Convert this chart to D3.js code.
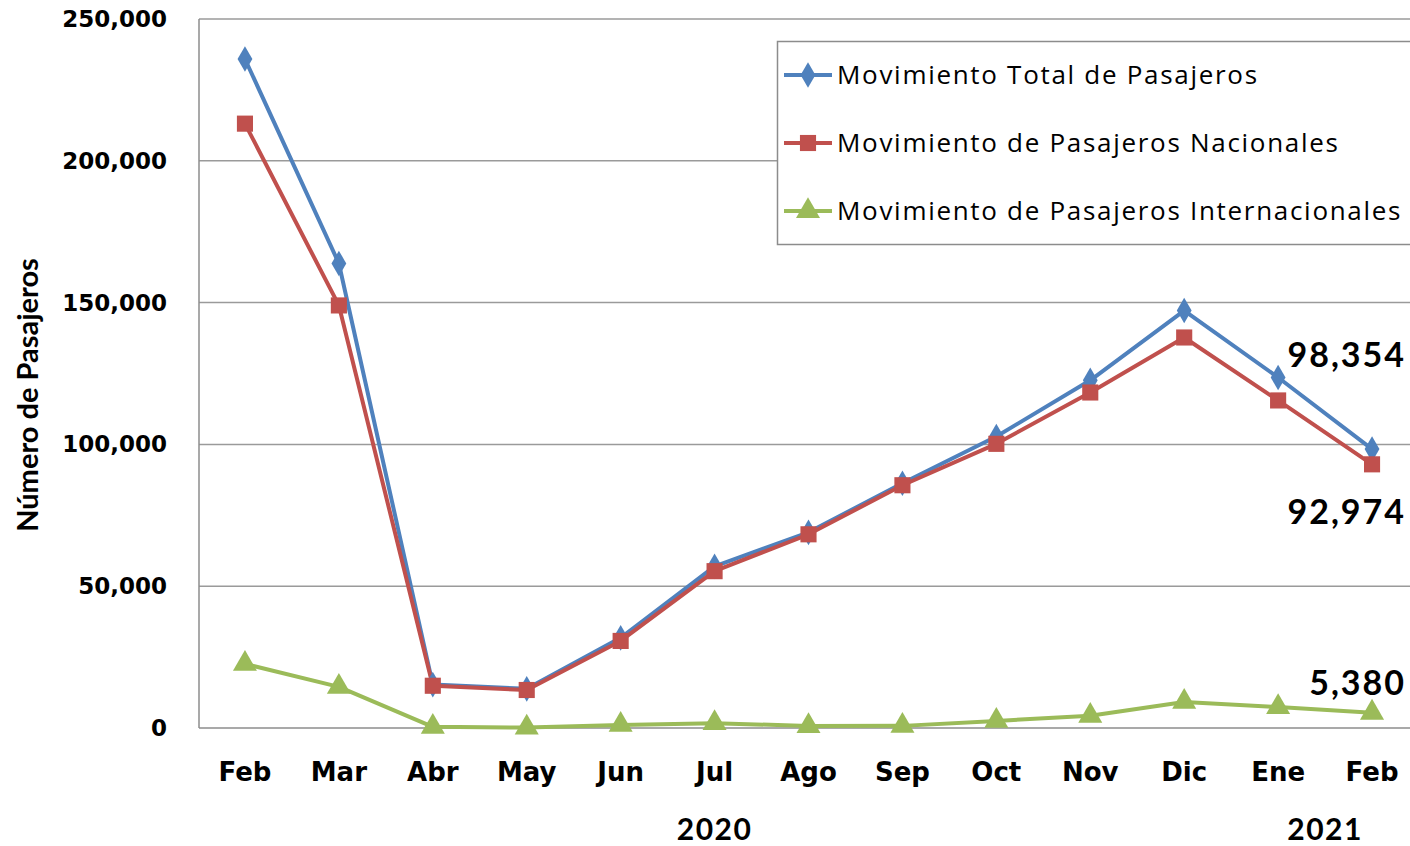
<!DOCTYPE html>
<html>
<head>
<meta charset="utf-8">
<script src="https://cdn.jsdelivr.net/npm/d3@7"></script>
<style>
  body { margin: 0; background: #fff; }
  svg { display: block; }
</style>
</head>
<body>
<svg id="chart"></svg>
<script>
// months (two "Feb" entries, so marks are keyed by index)
const months = ['Feb','Mar','Abr','May','Jun','Jul','Ago','Sep','Oct','Nov','Dic','Ene','Feb'];
const years = [{label: '2020', at: 5}, {label: '2021', at: 11.5}];

const total = [235900, 163800, 15300, 13800, 31800, 57000, 69000, 86300, 102800, 122600, 147200, 123600, 98354];
const nacional = [213100, 149000, 14900, 13400, 30700, 55300, 68300, 85600, 100200, 118300, 137700, 115500, 92974];
const internacional = [22600, 14500, 400, 150, 1100, 1700, 700, 750, 2500, 4300, 9200, 7400, 5380];

const yTicks = [0, 50000, 100000, 150000, 200000, 250000];

const seriesNames = ['Movimiento Total de Pasajeros', 'Movimiento de Pasajeros Nacionales', 'Movimiento de Pasajeros Internacionales'];
const seriesColors = ['#4F81BD', '#C0504D', '#9BBB59'];
const seriesSymbols = [d3.symbolDiamond, d3.symbolSquare, d3.symbolTriangle];

let vWidth = 1410, vHeight = 846;
let plotLeft = 199, plotTop = 19, plotBottom = 728;

var svg = d3.select('#chart')
  .attr('width', vWidth)
  .attr('height', vHeight);

// month index -> centre of its slot
var x = d3.scaleLinear()
  .domain([-0.5, months.length - 0.5])
  .range([198, 1419]);

var y = d3.scaleLinear()
  .domain([0, 250000])
  .range([plotBottom, plotTop]);

//gridlines
svg.append('g')
  .selectAll('line')
  .data(yTicks.filter(d => d > 0))
  .enter().append('line')
  .attr('x1', plotLeft).attr('x2', vWidth)
  .attr('y1', d => y(d)).attr('y2', d => y(d))
  .attr('stroke', '#9a9a9a').attr('stroke-width', 1.5);

//axes lines
svg.append('line')
  .attr('x1', plotLeft).attr('x2', plotLeft)
  .attr('y1', y(250000)).attr('y2', y(0))
  .attr('stroke', '#8c8c8c').attr('stroke-width', 1.5);
svg.append('line')
  .attr('x1', plotLeft).attr('x2', vWidth)
  .attr('y1', y(0)).attr('y2', y(0))
  .attr('stroke', '#8c8c8c').attr('stroke-width', 1.5);

//y tick labels
svg.append('g')
  .selectAll('text')
  .data(yTicks)
  .enter().append('text')
  .attr('x', 167)
  .attr('y', d => y(d))
  .attr('dy', '0.35em')
  .attr('text-anchor', 'end')
  .style('font', 'bold 23px "DejaVu Sans", Verdana, sans-serif')
  .text(d => d3.format(',')(d));

//x tick labels
svg.append('g')
  .selectAll('text')
  .data(months)
  .enter().append('text')
  .attr('x', (d, i) => x(i))
  .attr('y', 781)
  .attr('text-anchor', 'middle')
  .style('font', 'bold 26px "DejaVu Sans", Verdana, sans-serif')
  .text(d => d);

//year labels
svg.append('g')
  .selectAll('text')
  .data(years)
  .enter().append('text')
  .attr('x', d => x(d.at))
  .attr('y', 840)
  .attr('text-anchor', 'middle')
  .style('font', 'bold 30px Lato, "Open Sans", sans-serif')
  .style('letter-spacing', '1.5px')
  .text(d => d.label);

//y axis title
svg.append('text')
  .attr('transform', 'translate(38,395)rotate(-90)')
  .attr('text-anchor', 'middle')
  .style('font', 'bold 29px Lato, "Open Sans", sans-serif')
  .text('Número de Pasajeros');

//series
const allSeries = [total, nacional, internacional];
var line = d3.line().x((d, i) => x(i)).y(d => y(d));

allSeries.forEach(function(vals, s) {
  svg.append('path')
    .datum(vals)
    .attr('d', line)
    .attr('fill', 'none')
    .attr('stroke', seriesColors[s])
    .attr('stroke-width', 4)
    .attr('stroke-linejoin', 'round');
});

var symSizes = [190, 260, 250];
allSeries.forEach(function(vals, s) {
  svg.append('g')
    .selectAll('path')
    .data(vals)
    .enter().append('path')
    .attr('transform', (d, i) => 'translate(' + x(i) + ',' + y(d) + ')')
    .attr('d', d3.symbol().type(seriesSymbols[s]).size(symSizes[s]))
    .attr('fill', seriesColors[s]);
});

//end labels
var last = months.length - 1;
var endLabels = [
  {v: total[last], dy: -82},
  {v: nacional[last], dy: 60},
  {v: internacional[last], dy: -18}
];
svg.append('g')
  .selectAll('text')
  .data(endLabels)
  .enter().append('text')
  .attr('x', 1406)
  .attr('y', (d, i) => y(allSeries[i][last]) + d.dy)
  .attr('text-anchor', 'end')
  .style('font', 'bold 34px Lato, "Open Sans", sans-serif')
  .style('letter-spacing', '2px')
  .text(d => d3.format(',')(d.v));

//legend
var legend = svg.append('g');
legend.append('rect')
  .attr('x', 777.5).attr('y', 41.5)
  .attr('width', 640).attr('height', 203)
  .attr('fill', '#fff')
  .attr('stroke', '#8c8c8c').attr('stroke-width', 1.5);

var legendRows = legend.selectAll('g')
  .data(seriesNames)
  .enter().append('g')
  .attr('transform', (d, i) => 'translate(784,' + (75 + i * 68) + ')');

legendRows.append('line')
  .attr('x1', 0).attr('x2', 48)
  .attr('stroke', (d, i) => seriesColors[i])
  .attr('stroke-width', 4);
legendRows.append('path')
  .attr('transform', 'translate(24,0)')
  .attr('d', (d, i) => d3.symbol().type(seriesSymbols[i]).size(symSizes[i])())
  .attr('fill', (d, i) => seriesColors[i]);
legendRows.append('text')
  .attr('x', 53)
  .attr('dy', '0.35em')
  .style('font', '26px "Open Sans", Lato, sans-serif')
  .style('letter-spacing', '1.7px')
  .text(d => d);
</script>
</body>
</html>
